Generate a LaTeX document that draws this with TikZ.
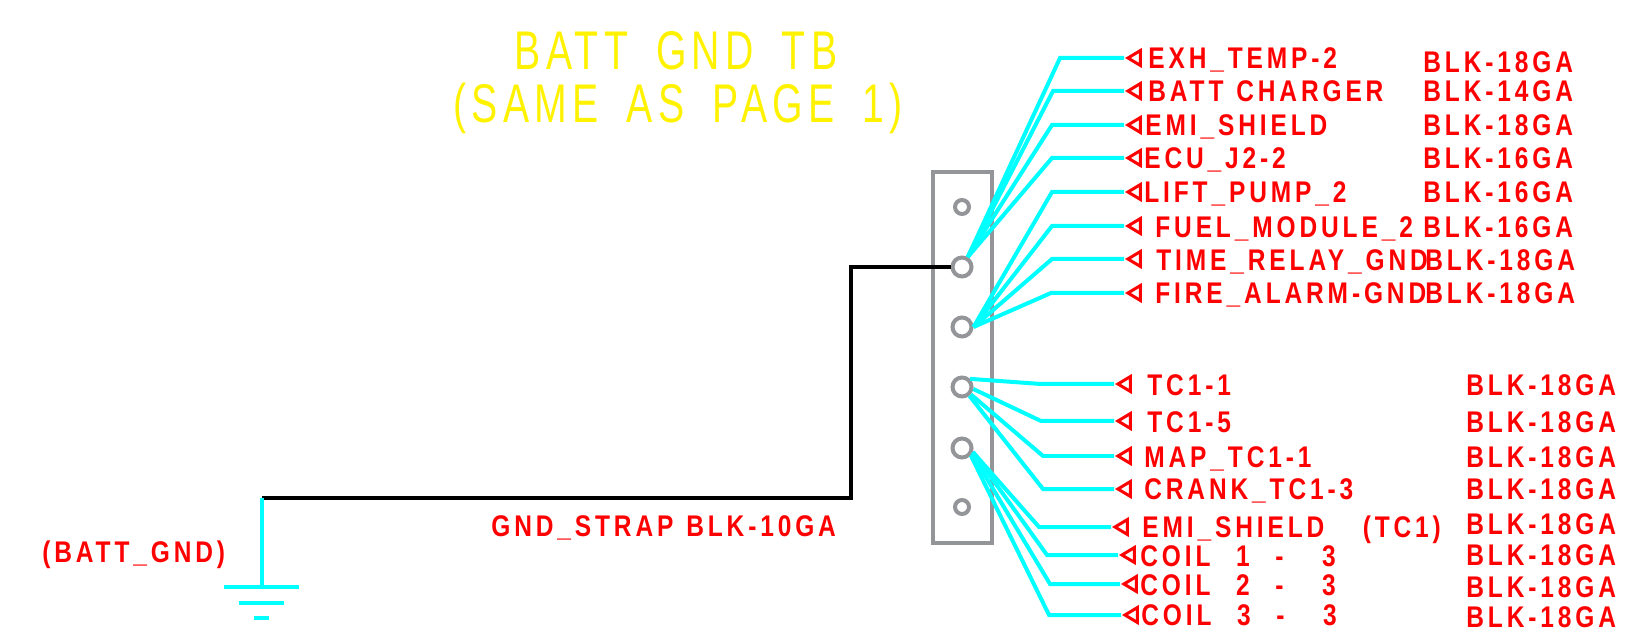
\documentclass[tikz,border=0pt]{standalone}
\usepackage{fontspec}
\usepackage{tikz}
\usetikzlibrary{shapes.geometric}
\newfontfamily\cadfont[FakeStretch=0.82,LetterSpace=13,WordSpace=1.2]{Liberation Sans}
\newfontfamily\titlefont[FakeStretch=0.72,LetterSpace=10,WordSpace=1.7]{Liberation Sans}
\definecolor{boxgray}{RGB}{147,149,152}
\definecolor{wirecyan}{RGB}{0,255,255}
\tikzset{
    terminal/.style={circle,draw=boxgray,line width=0.08cm,fill=white,inner sep=0pt,minimum size=0.38cm},
    smallterminal/.style={terminal,minimum size=0.28cm},
    wire/.style={color=wirecyan,line width=0.08cm},
    strap/.style={black,line width=0.09cm},
    tip/.style={isosceles triangle,isosceles triangle stretches,shape border rotate=180,anchor=apex,draw=red,line width=0.06cm,inner sep=0pt,minimum height=0.25cm,minimum width=0.3cm},
    wirelabel/.style={anchor=west,inner sep=0pt,text=red,text height=0.42cm,text depth=0pt,font=\cadfont\bfseries\fontsize{17}{17}\selectfont},
    titletext/.style={inner sep=0pt,text=yellow,font=\titlefont\fontsize{31}{31}\selectfont}
}
\begin{document}
\begin{tikzpicture}[x=0.02cm,y=-0.02cm]
    \useasboundingbox (0,0) rectangle (1625,641);

    \node[titletext] (Title1) at (676,51) {BATT GND TB};
    \node[titletext] (Title2) at (678,108) {(SAME AS PAGE 1)};

    \draw[boxgray,line width=0.07cm] (933,172) rectangle (992,543);
    \node[smallterminal] (T1) at (962,207) {};
    \node[terminal] (T2) at (962,267) {};
    \node[terminal] (T3) at (962,327) {};
    \node[terminal] (T4) at (962,387) {};
    \node[terminal] (T5) at (962,448) {};
    \node[smallterminal] (T6) at (962,507) {};

    \node[tip] (A1) at (1124,58) {};
    \node[tip] (A2) at (1124,91) {};
    \node[tip] (A3) at (1124,125) {};
    \node[tip] (A4) at (1124,158) {};
    \node[tip] (A5) at (1124,192) {};
    \node[tip] (A6) at (1124,226) {};
    \node[tip] (A7) at (1124,259) {};
    \node[tip] (A8) at (1124,293) {};
    \node[tip] (A9) at (1114,384) {};
    \node[tip] (A10) at (1114,421) {};
    \node[tip] (A11) at (1114,456) {};
    \node[tip] (A12) at (1114,489) {};
    \node[tip] (A13) at (1111,527) {};
    \node[tip] (A14) at (1118,555) {};
    \node[tip] (A15) at (1120,584) {};
    \node[tip] (A16) at (1121,615) {};

    \coordinate (B1) at (1060,58);
    \coordinate (B2) at (1053,91);
    \coordinate (B3) at (1052,125);
    \coordinate (B4) at (1052,158);
    \coordinate (B5) at (1052,192);
    \coordinate (B6) at (1052,226);
    \coordinate (B7) at (1052,259);
    \coordinate (B8) at (1051,293);
    \coordinate (B9) at (1041,384);
    \coordinate (B10) at (1041,421);
    \coordinate (B11) at (1043,456);
    \coordinate (B12) at (1043,489);
    \coordinate (B13) at (1039,527);
    \coordinate (B14) at (1047,555);
    \coordinate (B15) at (1050,584);
    \coordinate (B16) at (1049,615);

    \draw[wire] (T2.60) -- (B1) -- (A1);
    \draw[wire] (T2.60) -- (B2) -- (A2);
    \draw[wire] (T2.60) -- (B3) -- (A3);
    \draw[wire] (T2.60) -- (B4) -- (A4);
    \draw[wire] (T3.east) -- (B5) -- (A5);
    \draw[wire] (T3.east) -- (B6) -- (A6);
    \draw[wire] (T3.east) -- (B7) -- (A7);
    \draw[wire] (T3.east) -- (B8) -- (A8);
    \draw[wire] (T4.45) -- (B9) -- (A9);
    \draw[wire] (T4.-10) -- (B10) -- (A10);
    \draw[wire] (T4.-40) -- (B11) -- (A11);
    \draw[wire] (T4.-50) -- (B12) -- (A12);
    \draw[wire] (T5.-20) -- (B13) -- (A13);
    \draw[wire] (T5.-20) -- (B14) -- (A14);
    \draw[wire] (T5.-30) -- (B15) -- (A15);
    \draw[wire] (T5.-40) -- (B16) -- (A16);

    \node[wirelabel] (N1) at (1148,58) {EXH\_TEMP-2};
    \node[wirelabel] (N2) at (1148,91) {BATT CHARGER};
    \node[wirelabel] (N3) at (1145,125) {EMI\_SHIELD};
    \node[wirelabel] (N4) at (1144,158) {ECU\_J2-2};
    \node[wirelabel] (N5) at (1144,192) {LIFT\_PUMP\_2};
    \node[wirelabel] (N6) at (1155,227) {FUEL\_MODULE\_2};
    \node[wirelabel] (N7) at (1156,260) {TIME\_RELAY\_GND};
    \node[wirelabel] (N8) at (1155,293) {FIRE\_ALARM-GND};
    \node[wirelabel] (N9) at (1147,385) {TC1-1};
    \node[wirelabel] (N10) at (1147,422) {TC1-5};
    \node[wirelabel] (N11) at (1144,457) {MAP\_TC1-1};
    \node[wirelabel] (N12) at (1144,489) {CRANK\_TC1-3};
    \node[wirelabel] (N13) at (1142,527) {EMI\_SHIELD~~~(TC1)};
    \node[wirelabel] (N14) at (1140,556) {COIL~~1~~-~~~3};
    \node[wirelabel] (N15) at (1140,585) {COIL~~2~~-~~~3};
    \node[wirelabel] (N16) at (1141,615) {COIL~~3~~-~~~3};

    \node[wirelabel] (G1) at (1423,62) {BLK-18GA};
    \node[wirelabel] (G2) at (1423,91) {BLK-14GA};
    \node[wirelabel] (G3) at (1423,125) {BLK-18GA};
    \node[wirelabel] (G4) at (1423,158) {BLK-16GA};
    \node[wirelabel] (G5) at (1423,192) {BLK-16GA};
    \node[wirelabel] (G6) at (1423,227) {BLK-16GA};
    \node[wirelabel] (G7) at (1425,260) {BLK-18GA};
    \node[wirelabel] (G8) at (1425,293) {BLK-18GA};
    \node[wirelabel] (G9) at (1466,385) {BLK-18GA};
    \node[wirelabel] (G10) at (1466,422) {BLK-18GA};
    \node[wirelabel] (G11) at (1466,457) {BLK-18GA};
    \node[wirelabel] (G12) at (1466,489) {BLK-18GA};
    \node[wirelabel] (G13) at (1466,524) {BLK-18GA};
    \node[wirelabel] (G14) at (1466,555) {BLK-18GA};
    \node[wirelabel] (G15) at (1466,587) {BLK-18GA};
    \node[wirelabel] (G16) at (1466,617) {BLK-18GA};

    \coordinate (S1) at (851,267);
    \coordinate (S2) at (851,498);
    \coordinate (S3) at (262,498);
    \coordinate (E1) at (262,587);
    \draw[strap] (T2) -- (S1) -- (S2) -- (S3);
    \draw[wire] (S3) -- (E1);

    \coordinate (E2) at (224,587);
    \coordinate (E3) at (299,587);
    \coordinate (E4) at (239,603);
    \coordinate (E5) at (284,603);
    \coordinate (E6) at (254,618);
    \coordinate (E7) at (269,618);
    \draw[wire] (E2) -- (E3);
    \draw[wire] (E4) -- (E5);
    \draw[wire] (E6) -- (E7);

    \node[wirelabel] (Strap) at (491,526) {GND\_STRAP BLK-10GA};
    \node[wirelabel] (Gnd) at (42,552) {(BATT\_GND)};
\end{tikzpicture}
\end{document}
